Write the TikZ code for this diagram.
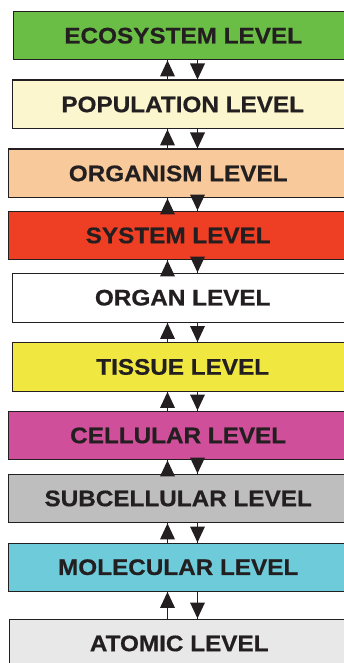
\documentclass[tikz,border=0pt]{standalone}
\usepackage{fontspec}
\setmainfont{Liberation Sans}[FakeStretch=1.08,FakeBold=0.6]
\definecolor{ink}{HTML}{231F20}
\definecolor{ceco}{HTML}{6BBE45}
\definecolor{cpop}{HTML}{FBF6CE}
\definecolor{corg}{HTML}{F8C99A}
\definecolor{csys}{HTML}{EE3F24}
\definecolor{corgan}{HTML}{FFFFFF}
\definecolor{ctis}{HTML}{F0E841}
\definecolor{ccel}{HTML}{D04F9A}
\definecolor{csub}{HTML}{BEBEBE}
\definecolor{cmol}{HTML}{6ECBDA}
\definecolor{catom}{HTML}{E8E8E8}
\tikzset{
  levelbox/.style={draw=ink, line width=1.4pt, rectangle, anchor=north west,
    minimum width=340pt, inner sep=0pt, text=ink,
    font=\fontsize{22.5}{26}\selectfont\bfseries},
  shaft/.style={draw=ink, line width=1.2pt},
  headfill/.style={fill=ink}
}
\begin{document}
\begin{tikzpicture}[x=1pt,y=-1pt]
\useasboundingbox (0,0) rectangle (344,663);
\clip (0,0) rectangle (344,663);
\fill[white] (0,0) rectangle (344,663);
\node[levelbox, fill=ceco,   minimum height=48pt] (b1)  at (12.5,11)   {ECOSYSTEM LEVEL};
\node[levelbox, fill=cpop,   minimum height=48.5pt] (b2)  at (12,79.5)  {POPULATION LEVEL};
\node[levelbox, fill=corg,   minimum height=48.5pt] (b3)  at (7.5,148.5) {ORGANISM LEVEL};
\node[levelbox, fill=csys,   minimum height=48.5pt] (b4)  at (7.5,210.5) {SYSTEM LEVEL};
\node[levelbox, fill=corgan, minimum height=49pt] (b5)  at (12,272.5)  {ORGAN LEVEL};
\node[levelbox, fill=ctis,   minimum height=48.5pt] (b6)  at (12,342)    {TISSUE LEVEL};
\node[levelbox, fill=ccel,   minimum height=48.5pt] (b7)  at (7.5,410.5) {CELLULAR LEVEL};
\node[levelbox, fill=csub,   minimum height=48.5pt] (b8)  at (7.5,473.5) {SUBCELLULAR LEVEL};
\node[levelbox, fill=cmol,   minimum height=48pt] (b9)  at (7.5,542.5) {MOLECULAR LEVEL};
\node[levelbox, fill=catom,  minimum height=48.5pt] (b10) at (8.5,618.5) {ATOMIC LEVEL};
\coordinate (ux) at (167.5,0);
\coordinate (dx) at (197.5,0);
\foreach \u/\l in {b1/b2,b2/b3,b3/b4,b4/b5,b5/b6,b6/b7,b7/b8,b8/b9,b9/b10}{
  \draw[shaft] (ux |- \l.north) -- (ux |- \u.south);
  \fill[headfill] (ux |- \u.south) -- ++(-7.5,16) -- ++(15,0) -- cycle;
  \draw[shaft] (dx |- \u.south) -- (dx |- \l.north);
  \fill[headfill] (dx |- \l.north) -- ++(-7.5,-16) -- ++(15,0) -- cycle;
}
\end{tikzpicture}
\end{document}
